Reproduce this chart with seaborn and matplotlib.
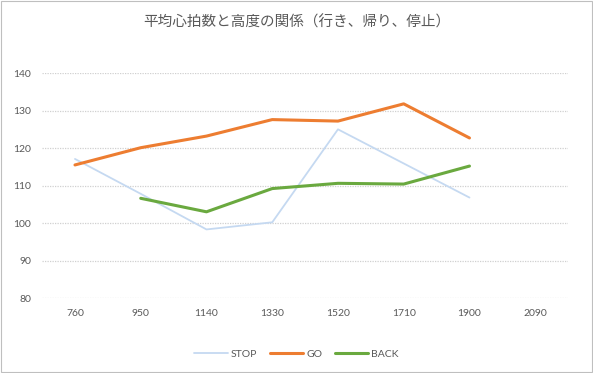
import matplotlib
matplotlib.use("Agg")
import matplotlib.pyplot as plt
import seaborn as sns
import pandas as pd
import numpy as np

altitudes = ["760", "950", "1140", "1330", "1520", "1710", "1900", "2090"]
stop = [117.1, 107.8, 98.3, 100.2, 125.0, 115.9, 106.8, np.nan]
go = [115.5, 120.1, 123.2, 127.6, 127.2, 131.8, 122.7, np.nan]
back = [np.nan, 106.6, 103.0, 109.2, 110.6, 110.4, 115.2, np.nan]
series_names = ["STOP", "GO", "BACK"]
colors = ["#C5D9F1", "#ED7D31", "#6AA93F"]
widths = [1.3, 2.2, 2.2]
title = "平均心拍数と高度の関係（行き、帰り、停止）"

sns.set_theme(style="white")
plt.rcParams["font.family"] = ["Lato", "Noto Sans CJK JP", "DejaVu Sans"]

rows = []
for name, vals in zip(series_names, [stop, go, back]):
    for i, v in enumerate(vals):
        rows.append({"pos": i, "hr": v, "series": name})
df = pd.DataFrame(rows).dropna()

fig = plt.figure(figsize=(5.93, 3.73), dpi=100)
ax = fig.add_axes([0.071, 0.201, 0.887, 0.603])

for name, c, w in zip(series_names, colors, widths):
    sns.lineplot(data=df[df["series"] == name], x="pos", y="hr", color=c,
                 linewidth=w, ax=ax, label=name, sort=False)

ax.set_xlim(-0.5, len(altitudes) - 0.5)
ax.set_ylim(80, 140)
ax.set_yticks(range(80, 141, 10))
ax.set_xticks(range(len(altitudes)))
ax.set_xticklabels(altitudes)
ax.set_xlabel("")
ax.set_ylabel("")
ax.yaxis.grid(True, color="#D0D0D0", linestyle=(0, (1, 1)), linewidth=0.9)
ax.xaxis.grid(False)
for s in ax.spines.values():
    s.set_visible(False)
ax.tick_params(axis="both", length=0, labelsize=7.5, labelcolor="#595959", pad=8)

ax.legend(loc="center", bbox_to_anchor=(0.5, 0.05), bbox_transform=fig.transFigure,
          ncol=3, frameon=False, fontsize=7.5, handlelength=3.2, columnspacing=1.2,
          handletextpad=0.3, labelcolor="#595959")

fig.text(0.5, 0.94, title, ha="center", va="center", fontsize=10.5, color="#595959",
         family=["Noto Sans CJK JP", "DejaVu Sans"])

border = plt.Rectangle((0.001, 0.002), 0.997, 0.996, transform=fig.transFigure,
                       fill=False, edgecolor="#BFBFBF", linewidth=0.8)
fig.add_artist(border)

fig.savefig("out.png", dpi=100)
